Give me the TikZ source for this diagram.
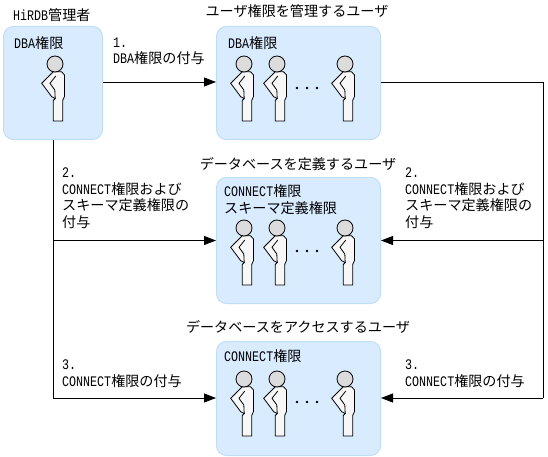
\documentclass[tikz,border=0pt]{standalone}
\usepackage{fontspec}
\usetikzlibrary{arrows.meta}
\setmainfont{Noto Sans CJK JP}
\newfontfamily\latnfont[FakeStretch=0.8]{Liberation Mono}
\newcommand{\lt}[1]{{\latnfont\fontsize{14.6}{14.6}\selectfont #1}}
\definecolor{panelfill}{HTML}{D9ECFF}
\definecolor{panelline}{HTML}{BFDDF5}
\definecolor{bodyfill}{HTML}{F7F7F7}
\definecolor{headfill}{HTML}{DCDCDC}
\tikzset{
  x=1pt,y=-1pt,
  panel/.style={draw=panelline,line width=1pt,fill=panelfill,rounded corners=10pt,inner sep=0pt,minimum width=#1,anchor=north west},
  lbl/.style={anchor=west,inner sep=0pt,font=\fontsize{14.1}{16.4}\selectfont,align=left},
  ttl/.style={anchor=center,inner sep=0pt,font=\fontsize{14.1}{16}\selectfont},
  conn/.style={line width=0.9pt,black},
  arrow/.style={conn,-{Triangle[length=12pt,width=9pt]}},
  pics/person/.style={code={
    \draw[line width=0.8pt,fill=bodyfill,line join=miter]
      (-1.7,7.7) -- (-13.3,19.3) -- (-3.3,32.7) -- (0.2,34.5) -- (-1.7,36.5) -- (-1.7,57) -- (7.7,57) -- (7.7,36.5) -- (9.5,32.5) -- (9.5,11) -- (6.5,7.7) -- cycle;
    \draw[line width=0.8pt] (0.2,34.5) -- (-0.2,26) -- (-5,19.3) -- (0.8,12);
    \draw[line width=0.8pt,fill=headfill] (0,0) circle[radius=8];
  }},
  pics/dots/.style={code={
    \fill (-10,0) circle[radius=1.4];
    \fill (0,0) circle[radius=1.4];
    \fill (10,0) circle[radius=1.4];
  }},
}
\begin{document}
\begin{tikzpicture}
\useasboundingbox (0,0) rectangle (548,457);
% panels
\node[panel=99pt,minimum height=113pt] (adminbox) at (3,26) {};
\node[panel=164pt,minimum height=113pt] (ubox) at (216,26) {};
\node[panel=164pt,minimum height=126pt] (dbox) at (216,177) {};
\node[panel=164pt,minimum height=114pt] (abox) at (216,341) {};
% titles
\node[lbl] (t1) at (13,15) {\lt{HiRDB}管理者};
\node[ttl] (t2) at (297,11) {ユーザ権限を管理するユーザ};
\node[ttl] (t3) at (298,164) {データベースを定義するユーザ};
\node[ttl] (t4) at (298,327) {データベースをアクセスするユーザ};
% panel texts
\node[lbl] (p1) at (14,43) {\lt{DBA}権限};
\node[lbl] (p2) at (228,43) {\lt{DBA}権限};
\node[lbl,anchor=north west] (p3) at (224,184.5) {\lt{CONNECT}権限\\スキーマ定義権限};
\node[lbl] (p4) at (224,356) {\lt{CONNECT}権限};
% persons
\pic at (55,64) {person};
\foreach \x in {244,277,345} {
  \pic at (\x,64) {person};
  \pic at (\x,228) {person};
  \pic at (\x,379) {person};
}
\pic at (307,88) {dots};
\pic at (307,251) {dots};
\pic at (307,402) {dots};
% connector junctions
\coordinate (lb) at (adminbox.south);
\coordinate (lmid) at (lb |- dbox.west);
\coordinate (lend) at (lb |- 0,398);
\coordinate (rc) at (543,82);
\coordinate (rmid) at (rc |- dbox.east);
\coordinate (rend) at (543,398);
\coordinate (atarget) at (abox.west |- lend);
\coordinate (btarget) at (abox.east |- rend);
% connectors
\draw[arrow] (adminbox.east |- rc) -- (ubox.west |- rc);
\draw[conn] (ubox.east |- rc) -- (rc) -- (rend);
\draw[arrow] (rmid) -- (dbox.east);
\draw[arrow] (rend) -- (btarget);
\draw[conn] (lb) -- (lend);
\draw[arrow] (lmid) -- (dbox.west);
\draw[arrow] (lend) -- (atarget);
% connector labels
\node[lbl,anchor=north west] (l1) at (113,37.5) {\lt{1.}\\\lt{DBA}権限の付与};
\node[lbl,anchor=north west] (l2) at (62,168) {\lt{2.}\\\lt{CONNECT}権限および\\スキーマ定義権限の\\付与};
\node[lbl,anchor=north west] (r2) at (405,168) {\lt{2.}\\\lt{CONNECT}権限および\\スキーマ定義権限の\\付与};
\node[lbl,anchor=north west] (l3) at (62,360) {\lt{3.}\\\lt{CONNECT}権限の付与};
\node[lbl,anchor=north west] (r3) at (405,360) {\lt{3.}\\\lt{CONNECT}権限の付与};
\end{tikzpicture}
\end{document}
